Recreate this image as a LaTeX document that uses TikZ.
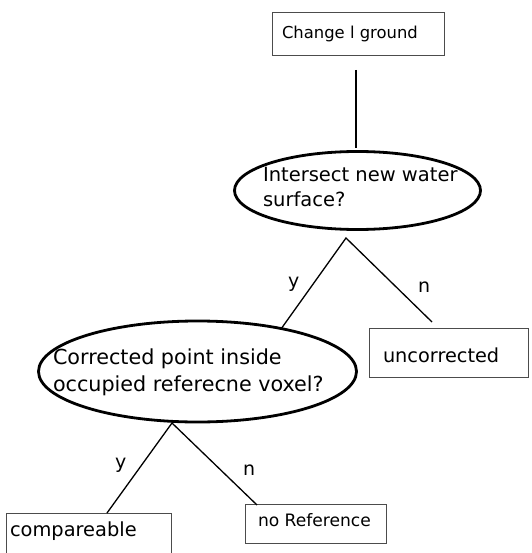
\documentclass[tikz,border=0pt]{standalone}
\usepackage{fontspec}
\setmainfont{DejaVu Sans}
\usetikzlibrary{shapes.geometric}
\begin{document}
\begin{tikzpicture}[x=1pt,y=-1pt,
  boxnode/.style={draw=black!70, line width=1.2pt, rectangle, inner sep=0pt},
  decision/.style={draw=black, line width=2.8pt, ellipse, inner sep=0pt},
  conn/.style={draw=black, line width=1.3pt},
  txt/.style={anchor=base west, inner sep=0pt, outer sep=0pt}]
\useasboundingbox (0,0) rectangle (531,553);
\clip (0,0) rectangle (531,553);
% boxes
\node[boxnode, minimum width=172pt, minimum height=43pt] (start) at (358.5,34) {};
\node[boxnode, minimum width=159pt, minimum height=49pt] (unc) at (449,353) {};
\node[boxnode, minimum width=141pt, minimum height=39pt] (noref) at (316,524) {};
\node[boxnode, minimum width=165pt, minimum height=86pt] (comp) at (89,556.5) {};
% ellipses
\node[decision, minimum width=246pt, minimum height=78pt] (e1) at (357.5,190.5) {};
\node[decision, minimum width=318pt, minimum height=101pt] (e2) at (197.5,371.5) {};
% texts
\node[txt, font=\fontsize{16.4}{20}\selectfont] (tstart) at (282,39) {Change l ground};
\node[txt, font=\fontsize{19.5}{25}\selectfont] (te1) at (263,182)
  {\begin{tabular}[t]{@{}l@{}}Intersect new water\\surface?\end{tabular}};
\node[txt, font=\fontsize{20.7}{27}\selectfont] (te2) at (53,364)
  {\begin{tabular}[t]{@{}l@{}}Corrected point inside\\occupied referecne voxel?\end{tabular}};
\node[txt, font=\fontsize{19.3}{23}\selectfont] (tunc) at (383,362) {uncorrected};
\node[txt, font=\fontsize{19.4}{23}\selectfont] (tcomp) at (10,536) {compareable};
\node[txt, font=\fontsize{17.1}{21}\selectfont] (tnoref) at (258,526) {no Reference};
% labels
\node[txt, font=\fontsize{19}{23}\selectfont] (y1) at (288,287) {y};
\node[txt, font=\fontsize{19}{23}\selectfont] (n1) at (418,292) {n};
\node[txt, font=\fontsize{19}{23}\selectfont] (y2) at (115,468) {y};
\node[txt, font=\fontsize{19}{23}\selectfont] (n2) at (243,475) {n};
% connector end points
\coordinate (c0) at (356,70);
\coordinate (c1) at (356,148);
\coordinate (a1) at (346,238);
\coordinate (l1) at (281,329);
\coordinate (r1) at (432,322);
\coordinate (a2) at (172,423);
\coordinate (l2) at (107,513);
\coordinate (r2) at (257,505);
\draw[conn] (c0) -- (c1);
\draw[conn] (l1) -- (a1) -- (r1);
\draw[conn] (l2) -- (a2) -- (r2);
\end{tikzpicture}
\end{document}
